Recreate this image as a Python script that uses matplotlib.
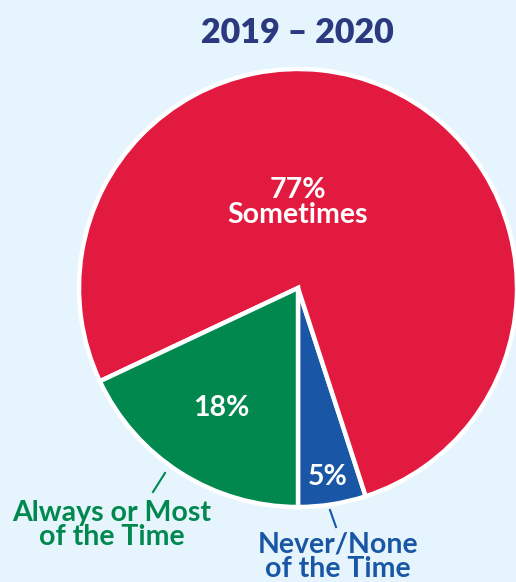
"""
Pie chart: how often, 2019 - 2020
"""

import numpy as np
import matplotlib.pyplot as plt

# Data
categories = ["Never/None\nof the Time", "Sometimes", "Always or Most\nof the Time"]
values = [5, 77, 18]
pct_labels = ["5%", "77%\nSometimes", "18%"]
title = "2019 \u2013 2020"

colours = ["#1957A6", "#E31A3F", "#00884F"]
bg = "#E6F5FD"
navy = "#2B3A7E"

W, H = 516, 582
fig = plt.figure(figsize=(W / 100, H / 100), dpi=100, facecolor=bg)
ax = fig.add_axes([0, 0, 1, 1])

font = ["Lato", "DejaVu Sans"]

# pie geometry in pixel space (y measured from the bottom)
cx, cy, r = 298, H - 288, 219

wedges, _ = ax.pie(values, colors=colours, startangle=-90, counterclock=True,
                   center=(cx, cy), radius=r, frame=True,
                   wedgeprops=dict(edgecolor="white", linewidth=3.2))
ax.set_xlim(0, W)
ax.set_ylim(0, H)
ax.set_aspect("equal")
ax.axis("off")

# Label radii as fraction of radius (None -> placed above centre)
label_r = [0.875, None, 0.65]
for w, lab, fr in zip(wedges, pct_labels, label_r):
    if fr is None:
        x, y = cx, cy + 0.39 * r
    else:
        ang = np.deg2rad((w.theta1 + w.theta2) / 2)
        x, y = cx + fr * r * np.cos(ang), cy + fr * r * np.sin(ang)
    ax.text(x, y, lab, color="white", fontsize=20.5, fontweight="bold",
            family=font, ha="center", va="center", linespacing=0.95)

# Outside labels with short leader lines
ax.plot([165, 153], [H - 473, H - 492], color=colours[2], lw=1.5)
ax.text(112, H - 525, categories[2], color=colours[2], fontsize=20.5,
        fontweight="bold", family=font, ha="center", va="center", linespacing=0.95)

ax.plot([330, 336], [H - 510, H - 527], color=colours[0], lw=1.5)
ax.text(338, H - 557, categories[0], color=colours[0], fontsize=20.5,
        fontweight="bold", family=font, ha="center", va="center", linespacing=0.95)

ax.text(297, H - 33, title, color=navy, fontsize=24.5, fontweight="heavy",
        family=font, ha="center", va="center")

fig.savefig("out.png", dpi=100, facecolor=bg)
